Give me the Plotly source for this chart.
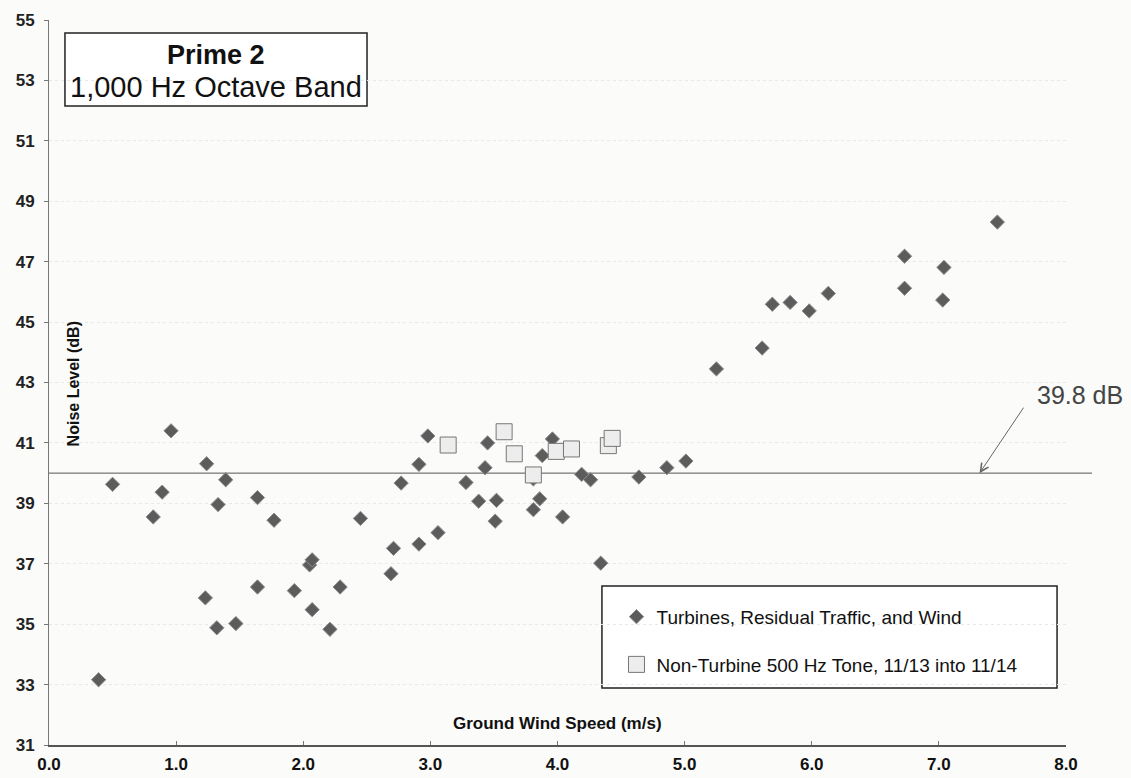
import plotly.graph_objects as go

# ---- data ----
turb_x = [0.39, 0.50, 0.82, 0.89, 0.96, 1.23, 1.24, 1.32, 1.33, 1.39,
          1.47, 1.64, 1.64, 1.77, 1.93, 2.05, 2.07, 2.07, 2.21, 2.29,
          2.45, 2.69, 2.71, 2.77, 2.91, 2.91, 2.98, 3.06, 3.28, 3.38,
          3.43, 3.45, 3.51, 3.52, 3.81, 3.81, 3.86, 3.88, 3.96, 4.04,
          4.19, 4.26, 4.34, 4.64, 4.86, 5.01, 5.25, 5.61, 5.69, 5.83,
          5.98, 6.13, 6.73, 6.73, 7.03, 7.04, 7.46]
turb_y = [33.16, 39.63, 38.55, 39.37, 41.40, 35.87, 40.31, 34.88, 38.96, 39.78,
          35.02, 39.19, 36.23, 38.44, 36.11, 36.96, 37.13, 35.48, 34.83, 36.23,
          38.50, 36.67, 37.51, 39.67, 37.65, 40.29, 41.23, 38.03, 39.69, 39.07,
          40.18, 41.00, 38.41, 39.10, 38.79, 39.81, 39.15, 40.58, 41.13, 38.55,
          39.96, 39.78, 37.02, 39.87, 40.18, 40.40, 43.45, 44.14, 45.59, 45.65,
          45.37, 45.95, 47.18, 46.12, 45.73, 46.81, 48.31]

tone_x = [3.14, 3.58, 3.66, 3.81, 3.99, 4.11, 4.40, 4.43]
tone_y = [40.93, 41.37, 40.64, 39.94, 40.72, 40.80, 40.91, 41.15]

ref_level = 40.0
ref_label = "39.8 dB"
arrow_x = 7.32

series_names = ["Turbines, Residual Traffic, and Wind",
                "Non-Turbine 500 Hz Tone, 11/13 into 11/14"]
title_lines = ["Prime 2", "1,000 Hz Octave Band"]
x_title = "Ground Wind Speed (m/s)"
y_title = "Noise Level (dB)"
x_ticks = [0, 1, 2, 3, 4, 5, 6, 7, 8]
y_ticks = list(range(31, 56, 2))

FONT = "Arial, Liberation Sans, sans-serif"
BG = "#fbfbf9"

fig = go.Figure()
fig.add_trace(go.Scatter(
    x=turb_x, y=turb_y, mode="markers", name=series_names[0], legendgroup="a",
    marker=dict(symbol="diamond", size=11, color="#5c5c5c",
                line=dict(color="#8c8c8c", width=1)),
))
fig.add_trace(go.Scatter(
    x=tone_x, y=tone_y, mode="markers", name=series_names[1], legendgroup="b",
    marker=dict(symbol="square", size=16, color="#ededed",
                line=dict(color="#777777", width=1)),
))

# reference line at 40 dB (extends slightly past the axis end, as in the original)
fig.add_shape(type="line", xref="paper", yref="y", x0=0, x1=1.0256,
              y0=ref_level, y1=ref_level, line=dict(color="#555555", width=1),
              layer="below")

# title box
fig.add_shape(type="rect", xref="paper", yref="paper",
              x0=0.0157, x1=0.3127, y0=0.8814, y1=0.9821,
              line=dict(color="#222222", width=1.5), fillcolor="white",
              layer="below")
fig.add_annotation(xref="paper", yref="paper", x=0.1642, y=0.9517,
                   text="<b>" + title_lines[0] + "</b>", showarrow=False,
                   font=dict(family=FONT, size=27, color="#111111"),
                   xanchor="center", yanchor="middle")
fig.add_annotation(xref="paper", yref="paper", x=0.1642, y=0.9076,
                   text=title_lines[1], showarrow=False,
                   font=dict(family=FONT, size=29, color="#111111"),
                   xanchor="center", yanchor="middle")

# legend box
fig.add_shape(type="rect", xref="paper", yref="paper",
              x0=0.5437, x1=0.9912, y0=0.0786, y1=0.2193,
              line=dict(color="#222222", width=1.5), fillcolor="white",
              layer="below")

# 39.8 dB label and arrow
fig.add_annotation(xref="paper", yref="paper", x=1.058, y=0.4828,
                   text=ref_label, showarrow=False,
                   font=dict(family=FONT, size=25, color="#444444"),
                   xanchor="right", yanchor="middle")
fig.add_annotation(x=arrow_x, y=ref_level, xref="x", yref="y", text="",
                   showarrow=True, ax=45, ay=-67, arrowhead=5, arrowsize=1.6,
                   arrowwidth=1, arrowcolor="#666666")

# axis titles inside the plot area
fig.add_annotation(xref="paper", yref="paper", x=0.5, y=0.03,
                   text="<b>" + x_title + "</b>", showarrow=False,
                   font=dict(family=FONT, size=17, color="#111111"),
                   xanchor="center", yanchor="middle")
fig.add_annotation(xref="paper", yref="paper", x=0.025, y=0.498,
                   text="<b>" + y_title + "</b>", showarrow=False, textangle=-90,
                   font=dict(family=FONT, size=16, color="#111111"),
                   xanchor="center", yanchor="middle")

fig.update_xaxes(range=[0, 8], tickvals=x_ticks,
                 ticktext=[f"{v:.1f}" for v in x_ticks],
                 showline=True, linecolor="#555555", linewidth=1.5,
                 ticks="inside", ticklen=4, tickcolor="#777777",
                 showgrid=False, zeroline=False, ticklabelstandoff=3,
                 automargin=False,
                 tickfont=dict(family=FONT, size=17, color="#111111",
                               weight="bold"))
fig.update_yaxes(range=[31, 55], tickvals=y_ticks,
                 showline=True, linecolor="#777777", linewidth=1,
                 ticks="outside", ticklen=4, tickcolor="#777777",
                 showgrid=True, gridcolor="#e8e8e4", griddash="dot", gridwidth=1,
                 zeroline=False, ticklabelstandoff=6, automargin=False,
                 tickfont=dict(family=FONT, size=17, color="#222222",
                               weight="bold"))

fig.update_layout(
    width=1131, height=778,
    margin=dict(l=49, r=65, t=20, b=33, autoexpand=False),
    paper_bgcolor=BG, plot_bgcolor=BG,
    font=dict(family=FONT, color="#111111"),
    showlegend=True,
    legend=dict(x=0.558, y=0.203, xanchor="left", yanchor="top",
                bgcolor="rgba(0,0,0,0)", borderwidth=0,
                font=dict(family=FONT, size=19, color="#111111"),
                tracegroupgap=20, itemwidth=30),
)

fig.write_html("out.html",
               config={"displayModeBar": False},
               post_script="document.body.style.margin='0';"
                           "document.body.style.overflow='hidden';"
                           "document.body.style.background='" + BG + "';")
